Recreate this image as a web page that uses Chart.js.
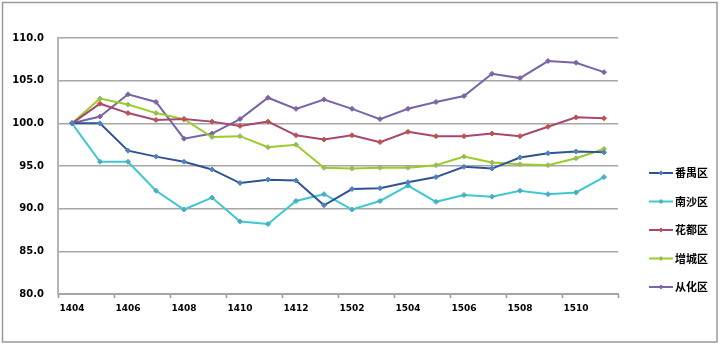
<!DOCTYPE html>
<html>
<head>
<meta charset="utf-8">
<script src="https://cdn.jsdelivr.net/npm/chart.js@4.4.1/dist/chart.umd.min.js"></script>
<style>
    html, body { margin: 0; padding: 0; background: #ffffff; }
    #wrap { position: relative; width: 720px; height: 345px; }
</style>
</head>
<body>
<div id="wrap"><canvas id="chart" width="720" height="345"></canvas></div>
<script>
// Months (yymm)
const months = ['1404', '1405', '1406', '1407', '1408', '1409', '1410', '1411', '1412',
    '1501', '1502', '1503', '1504', '1505', '1506', '1507', '1508', '1509', '1510', '1511'];

const districts = ['番禺区', '南沙区', '花都区', '增城区', '从化区'];

// Index values (base 1404 = 100)
const panyu = [100.0, 100.0, 96.8, 96.1, 95.5, 94.6, 93.0, 93.4, 93.3, 90.4,
    92.3, 92.4, 93.1, 93.7, 94.9, 94.7, 96.0, 96.5, 96.7, 96.6];
const nansha = [100.0, 95.5, 95.5, 92.1, 89.9, 91.3, 88.5, 88.2, 90.9, 91.7,
    89.9, 90.9, 92.7, 90.8, 91.6, 91.4, 92.1, 91.7, 91.9, 93.7];
const huadu = [100.0, 102.3, 101.2, 100.4, 100.5, 100.2, 99.7, 100.2, 98.6, 98.1,
    98.6, 97.8, 99.0, 98.5, 98.5, 98.8, 98.5, 99.6, 100.7, 100.6];
const zengcheng = [100.0, 102.9, 102.2, 101.2, 100.5, 98.4, 98.5, 97.2, 97.5, 94.8,
    94.7, 94.8, 94.8, 95.1, 96.1, 95.4, 95.2, 95.1, 95.9, 97.0];
const conghua = [100.0, 100.8, 103.4, 102.5, 98.2, 98.8, 100.5, 103.0, 101.7, 102.8,
    101.7, 100.5, 101.7, 102.5, 103.2, 105.8, 105.3, 107.3, 107.1, 106.0];

const lineColors = ['#2f5393', '#3ec8d0', '#a8466f', '#9acd26', '#7765a9'];
const markColors = ['#4f81bd', '#4bacc6', '#c0504d', '#9bbb59', '#8064a2'];

Chart.defaults.font.family = '"DejaVu Sans", sans-serif';
Chart.defaults.color = '#000000';

// Outer frame around the whole picture
const framePlugin = {
    id: 'frame',
    beforeDraw(chart) {
        const c = chart.ctx;
        c.save();
        c.fillStyle = '#ffffff';
        c.fillRect(0, 0, chart.width, chart.height);
        c.restore();
    },
    afterDraw(chart) {
        const c = chart.ctx;
        c.save();
        c.strokeStyle = '#9a9a9a';
        c.lineWidth = 1.5;
        c.strokeRect(2.5, 2.5, 714.5, 339.5);
        c.restore();
    }
};

// Legend on the right, drawn by hand to match spacing
const sideLegend = {
    id: 'sideLegend',
    afterDraw(chart) {
        const c = chart.ctx;
        const x0 = 649, x1 = 673, top = 173, step = 28.5;
        c.save();
        chart.data.datasets.forEach((ds, i) => {
            const y = top + i * step;
            c.strokeStyle = ds.borderColor;
            c.lineWidth = 2;
            c.beginPath();
            c.moveTo(x0, y);
            c.lineTo(x1, y);
            c.stroke();
            c.fillStyle = ds.pointBackgroundColor;
            c.beginPath();
            const xm = (x0 + x1) / 2;
            c.moveTo(xm, y - 2.5);
            c.lineTo(xm + 2.5, y);
            c.lineTo(xm, y + 2.5);
            c.lineTo(xm - 2.5, y);
            c.closePath();
            c.fill();
            c.fillStyle = '#000000';
            c.font = 'bold 11px "Noto Sans CJK SC", sans-serif';
            c.textBaseline = 'middle';
            c.textAlign = 'left';
            c.fillText(ds.label, x1 + 2, y);
        });
        c.restore();
    }
};

const seriesData = [panyu, nansha, huadu, zengcheng, conghua];

const datasets = districts.map((name, i) => ({
    label: name,
    data: seriesData[i],
    borderColor: lineColors[i],
    backgroundColor: lineColors[i],
    pointBackgroundColor: markColors[i],
    pointBorderColor: markColors[i],
    borderWidth: 2,
    pointStyle: 'rectRot',
    pointRadius: 2.5,
    pointBorderWidth: 1,
    tension: 0
}));

new Chart(document.getElementById('chart'), {
    type: 'line',
    data: { labels: months, datasets: datasets },
    options: {
        responsive: false,
        animation: false,
        layout: { padding: { left: 0, top: 38, right: 102, bottom: 0 } },
        plugins: {
            legend: { display: false },
            tooltip: { enabled: false }
        },
        scales: {
            x: {
                offset: true,
                grid: {
                    offset: true,
                    drawOnChartArea: false,
                    tickLength: 4,
                    tickWidth: 1.5,
                    tickColor: (ctx) => (ctx.type === 'scale' || ctx.index % 2 === 0) ? '#9a9a9a' : 'rgba(0,0,0,0)'
                },
                border: { color: '#a6a6a6', width: 2 },
                ticks: {
                    autoSkip: false,
                    maxRotation: 0,
                    padding: 5,
                    font: { size: 9, weight: 'bold' },
                    callback: function(value, index) {
                        return index % 2 === 0 ? this.getLabelForValue(value) : '';
                    }
                },
                afterFit: (scale) => { scale.height = 51; }
            },
            y: {
                min: 80,
                max: 110,
                ticks: {
                    stepSize: 5,
                    padding: 14,
                    font: { size: 10, weight: 'bold' },
                    callback: (v) => v.toFixed(1)
                },
                grid: {
                    color: '#a6a6a6',
                    lineWidth: 1.5,
                    drawTicks: false
                },
                border: { color: '#b4b4b4', width: 2 },
                afterFit: (scale) => { scale.width = 58; }
            }
        }
    },
    plugins: [framePlugin, sideLegend]
});
</script>
</body>
</html>
